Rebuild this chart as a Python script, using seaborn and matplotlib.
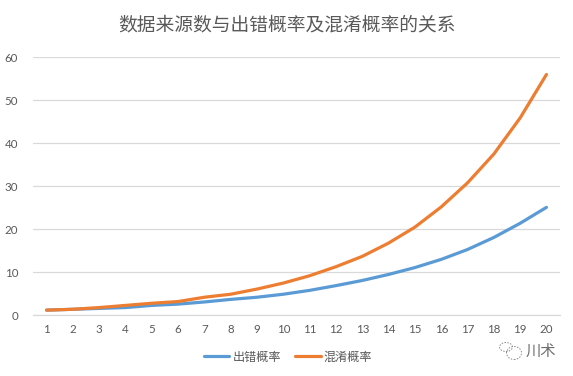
import matplotlib
matplotlib.use("Agg")
import matplotlib.pyplot as plt
from matplotlib.patches import Ellipse
import pandas as pd
import seaborn as sns

title = "数据来源数与出错概率及混淆概率的关系"
sources = list(range(1, 21))
error_name = "出错概率"
confuse_name = "混淆概率"
error_prob = [1.2, 1.4, 1.6, 1.8, 2.3, 2.6, 3.1, 3.7, 4.2, 4.9, 5.8, 6.9, 8.1, 9.5, 11.1, 13.0, 15.3, 18.1, 21.4, 25.1]
confuse_prob = [1.2, 1.4, 1.8, 2.3, 2.8, 3.2, 4.2, 4.9, 6.1, 7.5, 9.2, 11.3, 13.7, 16.8, 20.5, 25.2, 30.8, 37.5, 45.9, 56.0]
y_ticks = [0, 10, 20, 30, 40, 50, 60]

sns.set_theme(style="white")
plt.rcParams['font.family'] = ['Noto Sans CJK SC', 'DejaVu Sans']

W, H = 573, 376
fig = plt.figure(figsize=(W / 100, H / 100), dpi=100)
ax = fig.add_axes([33.4 / W, 1 - 315.3 / H, (559.6 - 33.4) / W, (315.3 - 57.3) / H])

df = pd.DataFrame({"x": sources * 2,
                   "y": error_prob + confuse_prob,
                   "s": [error_name] * 20 + [confuse_name] * 20})
sns.lineplot(data=df, x="x", y="y", hue="s", ax=ax, linewidth=2.3,
             palette=["#5B9BD5", "#ED7D31"], legend=False, errorbar=None,
             solid_capstyle="round")

ax.set_xlim(0.5, 20.5)
ax.set_ylim(0, 60)
ax.set_xticks(sources)
ax.set_yticks(y_ticks)
ax.set_xlabel("")
ax.set_ylabel("")
ax.tick_params(axis="both", length=0, labelsize=8.3, labelcolor="#595959")
ax.tick_params(axis="y", pad=11)
ax.tick_params(axis="x", pad=6.5)
for lab in ax.get_xticklabels() + ax.get_yticklabels():
    lab.set_family("Lato")
ax.grid(axis="y", color="#D9D9D9", linewidth=0.9)
ax.set_axisbelow(True)
for name, sp in ax.spines.items():
    sp.set_visible(False)
ax.spines["bottom"].set_visible(True)
ax.spines["bottom"].set_color("#D9D9D9")
ax.spines["bottom"].set_linewidth(0.9)
for line in ax.get_lines():
    line.set_clip_on(False)

fig.text(286.5 / W, 1 - 25 / H, title, ha="center", va="center", fontsize=13.5, color="#595959")

# legend
handles = [plt.Line2D([], [], color="#5B9BD5", lw=2.3, solid_capstyle="round"),
           plt.Line2D([], [], color="#ED7D31", lw=2.3, solid_capstyle="round")]
fig.legend(handles, [error_name, confuse_name], loc="center", ncol=2,
           bbox_to_anchor=(288 / W, 1 - 357 / H), frameon=False, fontsize=8.7,
           labelcolor="#595959", handlelength=2.1, handletextpad=0.25, columnspacing=1.2,
           borderpad=0, borderaxespad=0)

# watermark
fig.text(541 / W, 1 - 351 / H, "川术", ha="center", va="center", fontsize=11, color="#6E6E6E")
for cx, cy, w, h in [(506, 347, 13, 9), (514, 353, 15, 13)]:
    fig.add_artist(Ellipse((cx / W, 1 - cy / H), w / W, h / H, transform=fig.transFigure,
                           fill=False, ec="#8A8A8A", lw=0.7, ls=(0, (1.5, 1.5))))

fig.savefig("out.png", dpi=100)
